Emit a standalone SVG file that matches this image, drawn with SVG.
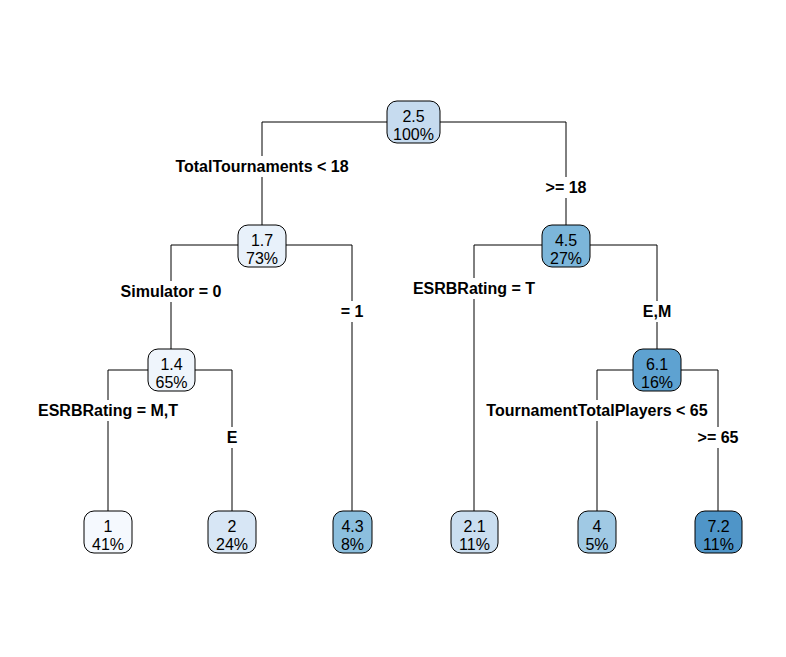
<svg xmlns="http://www.w3.org/2000/svg" width="786" height="657" viewBox="0 0 786 657">
<style>
.e{fill:none;stroke:#000;stroke-width:1}
.b{stroke:#000;stroke-width:1}
.t{font-family:"Liberation Sans",Arial,sans-serif;font-size:16px;text-anchor:middle;fill:#000}
.l{font-family:"Liberation Sans",Arial,sans-serif;font-size:16px;font-weight:bold;text-anchor:middle;fill:#000}
</style>
<rect width="786" height="657" fill="#fff"/>
<g id="connectors">
<path class="e" d="M387 122H262V225M440 122H566V225"/>
<path class="e" d="M238 245H171V349M286 245H352V511"/>
<path class="e" d="M148 370H108V511M195 370H232V511"/>
<path class="e" d="M542 245H474V511M590 245H657V349"/>
<path class="e" d="M633 370H597V511M681 370H718V511"/>
<g>
<rect x="170" y="156" width="184" height="21" fill="#fff"/>
<text class="l" x="262" y="172">TotalTournaments &lt; 18</text>
<rect x="539" y="177" width="54" height="21" fill="#fff"/>
<text class="l" x="566" y="193">&gt;= 18</text>
<rect x="112" y="281" width="118" height="21" fill="#fff"/>
<text class="l" x="171" y="297">Simulator = 0</text>
<rect x="338" y="301" width="28" height="21" fill="#fff"/>
<text class="l" x="352" y="317">= 1</text>
<rect x="34" y="400" width="148" height="21" fill="#fff"/>
<text class="l" x="108" y="416">ESRBRating = M,T</text>
<rect x="223" y="427" width="18" height="21" fill="#fff"/>
<text class="l" x="232" y="443">E</text>
<rect x="410" y="278" width="128" height="21" fill="#fff"/>
<text class="l" x="474" y="294">ESRBRating = T</text>
<rect x="638" y="301" width="38" height="21" fill="#fff"/>
<text class="l" x="657" y="317">E,M</text>
<rect x="482" y="400" width="232" height="21" fill="#fff"/>
<text class="l" x="597" y="416">TournamentTotalPlayers &lt; 65</text>
<rect x="692" y="427" width="52" height="21" fill="#fff"/>
<text class="l" x="718" y="443">&gt;= 65</text>
</g>
</g>
<g id="n1"><rect class="b" x="387" y="101" width="53" height="42" rx="10" fill="#c6dbef"/><text class="t" x="413.5" y="122">2.5</text><text class="t" x="413.5" y="140">100%</text></g>
<g id="n2"><rect class="b" x="238" y="225" width="48" height="42" rx="10" fill="#e8f1fa"/><text class="t" x="262" y="246">1.7</text><text class="t" x="262" y="264">73%</text></g>
<g id="n3"><rect class="b" x="542" y="225" width="48" height="42" rx="10" fill="#7cb6da"/><text class="t" x="566" y="246">4.5</text><text class="t" x="566" y="264">27%</text></g>
<g id="n4"><rect class="b" x="148" y="349" width="47" height="42" rx="10" fill="#eff5fc"/><text class="t" x="171.5" y="370">1.4</text><text class="t" x="171.5" y="388">65%</text></g>
<g id="n7"><rect class="b" x="633" y="349" width="48" height="42" rx="10" fill="#5ea2d1"/><text class="t" x="657" y="370">6.1</text><text class="t" x="657" y="388">16%</text></g>
<g id="n8"><rect class="b" x="84" y="511" width="48" height="42" rx="10" fill="#f5f9fe"/><text class="t" x="108" y="532">1</text><text class="t" x="108" y="550">41%</text></g>
<g id="n9"><rect class="b" x="208" y="511" width="48" height="42" rx="10" fill="#d7e6f5"/><text class="t" x="232" y="532">2</text><text class="t" x="232" y="550">24%</text></g>
<g id="n5"><rect class="b" x="333" y="511" width="39" height="42" rx="10" fill="#8cbfde"/><text class="t" x="352.5" y="532">4.3</text><text class="t" x="352.5" y="550">8%</text></g>
<g id="n6"><rect class="b" x="451" y="511" width="47" height="42" rx="10" fill="#cadef0"/><text class="t" x="474.5" y="532">2.1</text><text class="t" x="474.5" y="550">11%</text></g>
<g id="n14"><rect class="b" x="578" y="511" width="38" height="42" rx="10" fill="#a0c9e4"/><text class="t" x="597" y="532">4</text><text class="t" x="597" y="550">5%</text></g>
<g id="n15"><rect class="b" x="695" y="511" width="47" height="42" rx="10" fill="#4f95c8"/><text class="t" x="718.5" y="532">7.2</text><text class="t" x="718.5" y="550">11%</text></g>
</svg>
